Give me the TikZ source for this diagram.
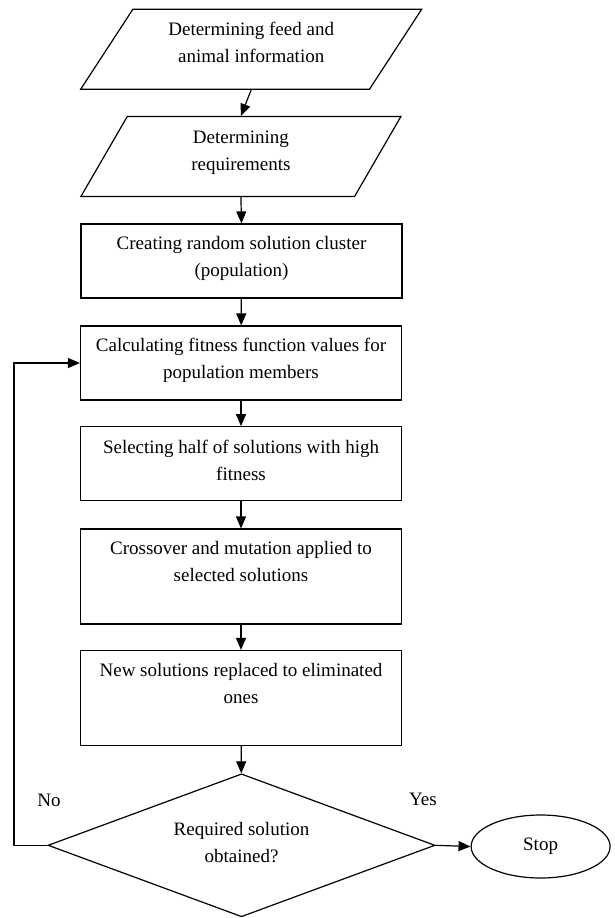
\documentclass[tikz,border=0pt]{standalone}
\usepackage{fontspec}
\setmainfont{Liberation Serif}
\usetikzlibrary{shapes.geometric, arrows.meta}

\begin{document}
\begin{tikzpicture}[x=1pt, y=-1pt,
    line width=1.2pt,
    every node/.style={font=\fontsize{19}{27}\selectfont},
    slantnode/.style={trapezium, draw=black, trapezium stretches body, align=center, minimum height=80pt},
    boxnode/.style={rectangle, draw=black, minimum width=321pt, minimum height=74pt, align=center, text depth=9pt},
    decisionnode/.style={diamond, draw=black, aspect=2.7, inner sep=1pt, minimum width=387pt, minimum height=143pt, align=center, text depth=6pt},
    roundnode/.style={ellipse, draw=black, minimum width=139pt, minimum height=63pt},
    directed/.style={-{Triangle[length=12pt,width=10pt]}}
]
    \useasboundingbox (0,0) rectangle (615,918);

    % Nodes
    \node[slantnode, minimum width=341pt, trapezium left angle=49, trapezium right angle=131, text depth=13pt] (feed) at (251.2,49.2) {Determining feed and\\animal information};
    \node[slantnode, minimum width=320pt, trapezium left angle=51, trapezium right angle=129, text depth=11pt] (req) at (240.9,156.5) {Determining\\requirements};
    \node[boxnode] (create) at (241.5,261) {Creating random solution cluster\\(population)};
    \node[boxnode] (fitness) at (241,363) {Calculating fitness function values for\\population members};
    \node[boxnode, text depth=7pt] (select) at (241,463.7) {Selecting half of solutions with high\\fitness};
    \node[boxnode, minimum height=95pt, text depth=30pt] (cross) at (241,576.5) {Crossover and mutation applied to\\selected solutions};
    \node[boxnode, minimum height=95pt, text depth=29pt] (newsol) at (241,698) {New solutions replaced to eliminated\\ones};
    \node[decisionnode] (decide) at (241.5,845.3) {Required solution\\obtained?};
    \node[roundnode] (stop) at (540.6,846.5) {Stop};
    \node (no) at (49,800.7) {No};
    \node (yes) at (423,799) {Yes};
    \coordinate (loop) at (14,363);

    % Arrows
    \draw[directed] (feed.south) -- (req.north);
    \draw[directed] (req.south) -- (create.north);
    \draw[directed] (create) -- (fitness);
    \draw[directed] (fitness) -- (select);
    \draw[directed] (select) -- (cross);
    \draw[directed] (cross) -- (newsol);
    \draw[directed] (newsol) -- (decide);
    \draw[directed] (decide.east) -- (stop.west);

    % Loop back when no solution
    \draw[directed] (decide.west) -| (loop) -- (fitness.west);
\end{tikzpicture}
\end{document}
